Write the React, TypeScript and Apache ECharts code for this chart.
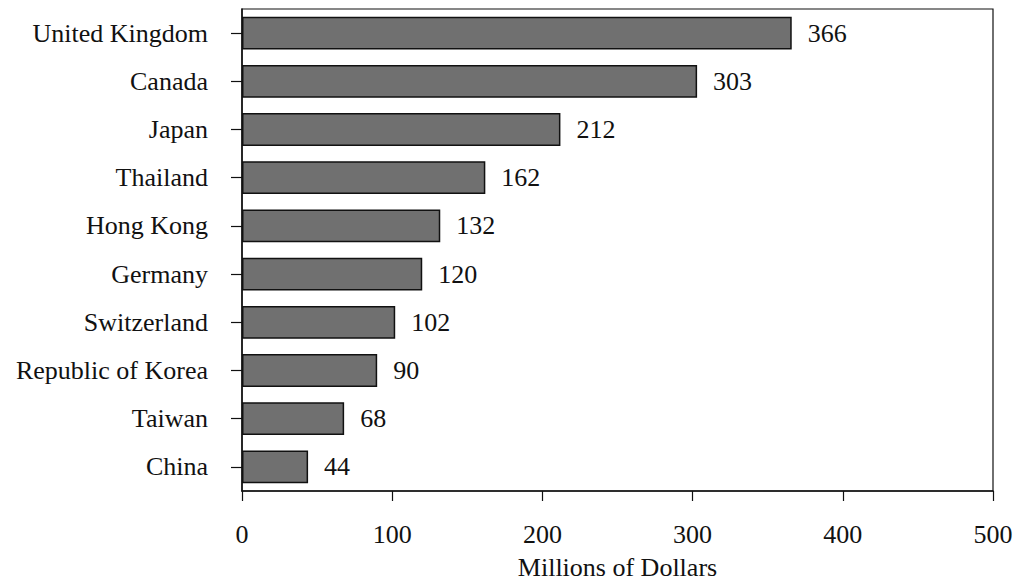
import React, { useEffect, useRef } from "react";
import * as echarts from "echarts";

const categories = [
  "United Kingdom",
  "Canada",
  "Japan",
  "Thailand",
  "Hong Kong",
  "Germany",
  "Switzerland",
  "Republic of Korea",
  "Taiwan",
  "China",
];
const values = [366, 303, 212, 162, 132, 120, 102, 90, 68, 44];
const xTicks = [0, 100, 200, 300, 400, 500];
const xTitle = "Millions of Dollars";

const FONT = "'Liberation Serif', 'Times New Roman', serif";

export default function App() {
  const ref = useRef<HTMLDivElement>(null);
  useEffect(() => {
    document.body.style.margin = "0";
    const chart = echarts.init(ref.current!, undefined, { renderer: "svg" });
    chart.setOption({
      animation: false,
      backgroundColor: "#ffffff",
      grid: {
        left: 242,
        right: 25,
        top: 9,
        bottom: 87,
        show: true,
        borderColor: "#111",
        borderWidth: 1.2,
        backgroundColor: "transparent",
      },
      xAxis: {
        type: "value",
        min: xTicks[0],
        max: xTicks[xTicks.length - 1],
        interval: xTicks[1] - xTicks[0],
        name: xTitle,
        nameLocation: "middle",
        nameGap: 63,
        nameTextStyle: { fontFamily: FONT, fontSize: 26, color: "#111" },
        axisLine: { show: true, lineStyle: { color: "#111", width: 1.5 } },
        axisTick: { show: true, inside: false, length: 10, lineStyle: { color: "#111", width: 1.2 } },
        axisLabel: { fontFamily: FONT, fontSize: 26, color: "#111", margin: 30 },
        splitLine: { show: false },
      },
      yAxis: {
        type: "category",
        data: categories,
        inverse: true,
        axisLine: { show: true, lineStyle: { color: "#111", width: 1.5 } },
        axisTick: { show: true, inside: false, length: 11, alignWithLabel: true, lineStyle: { color: "#111", width: 1.2 } },
        axisLabel: { fontFamily: FONT, fontSize: 26, color: "#111", margin: 34 },
        splitLine: { show: false },
      },
      series: [
        {
          type: "bar",
          data: values,
          barCategoryGap: "32%",
          itemStyle: { color: "#707070", borderColor: "#111", borderWidth: 1.5 },
          label: {
            show: true,
            position: "right",
            distance: 16,
            fontFamily: FONT,
            fontSize: 26,
            color: "#111",
          },
        },
      ],
    });
    return () => chart.dispose();
  }, []);
  return <div ref={ref} style={{ width: 1018, height: 585 }} />;
}
